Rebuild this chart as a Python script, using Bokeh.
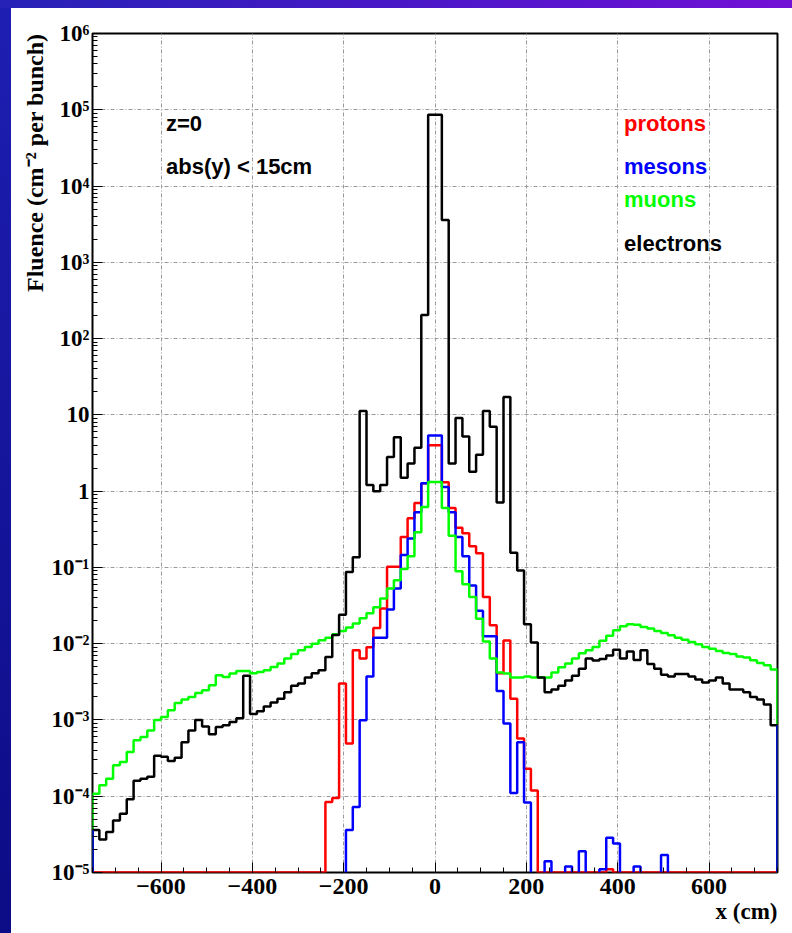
import json
import numpy as np
from bokeh.plotting import figure
from bokeh.models import FixedTicker, CustomJSTickFormatter, Label, Div, Range1d, Title
from bokeh.layouts import column, row
from bokeh.embed import file_html
from bokeh.resources import INLINE

# ---------------- data ----------------
x_min, x_max, bin_width = -750, 750, 15          # 100 bins of 15 cm

protons = [
    0, 0, 0, 0, 0, 0, 0, 0, 0, 0,
    0, 0, 0, 0, 0, 0, 0, 0, 0, 0,
    0, 0, 0, 0, 0, 0, 0, 0, 0, 0,
    0, 0, 0, 0, 8.4e-5, 9.5e-5, 3.0e-3, 4.9e-4, 8.2e-3, 6.4e-3,
    9.0e-3, 1.6e-2, 2.9e-2, 0.102, 0.102, 0.25, 0.44, 0.70, 1.27, 4.0,
    4.0, 1.31, 0.60, 0.33, 0.28, 0.19, 0.153, 0.041, 0.0174, 4.1e-3,
    0.011, 1.9e-3, 5.7e-4, 2.3e-4, 1.19e-4, 0, 0, 0, 0, 0,
    0, 0, 0, 0, 0, 1.1e-5, 0, 0, 0, 0,
    0, 0, 0, 0, 0, 0, 0, 0, 0, 0,
    0, 0, 0, 0, 0, 0, 0, 0, 0, 0,
]

mesons = [
    0, 0, 0, 0, 0, 0, 0, 0, 0, 0,
    0, 0, 0, 0, 0, 0, 0, 0, 0, 0,
    0, 0, 0, 0, 0, 0, 0, 0, 0, 0,
    0, 0, 0, 0, 0, 0, 0, 3.6e-5, 7.2e-5, 9.9e-4,
    3.7e-3, 0.012, 0.012, 0.028, 0.053, 0.145, 0.24, 0.53, 1.27, 5.35,
    5.35, 1.13, 0.53, 0.25, 0.14, 0.058, 0.027, 0.0125, 0.0125, 2.4e-3,
    9.0e-4, 1.1e-4, 5.1e-4, 8.3e-5, 0, 0, 1.4e-5, 0, 0, 1.2e-5,
    0, 1.9e-5, 0, 0, 1.1e-5, 2.85e-5, 2.4e-5, 0, 0, 1.2e-5,
    0, 0, 0, 1.7e-5, 0, 0, 0, 0, 0, 0,
    0, 0, 0, 0, 0, 0, 0, 0, 0, 0,
]

muons = [
    1.08e-4, 1.39e-4, 1.70e-4, 2.54e-4, 2.8e-4, 3.8e-4, 5.4e-4, 6.0e-4, 7.3e-4, 1.0e-3,
    1.09e-3, 1.34e-3, 1.67e-3, 1.85e-3, 2.0e-3, 2.25e-3, 2.45e-3, 2.85e-3, 3.85e-3, 3.65e-3,
    4.05e-3, 4.4e-3, 4.4e-3, 4.1e-3, 4.25e-3, 4.5e-3, 4.95e-3, 5.5e-3, 6.4e-3, 7.3e-3,
    8.2e-3, 9.05e-3, 0.010, 0.0111, 0.012, 0.0133, 0.0147, 0.0163, 0.0184, 0.0215,
    0.025, 0.030, 0.039, 0.053, 0.068, 0.095, 0.14, 0.29, 0.62, 1.32,
    1.32, 0.60, 0.26, 0.089, 0.060, 0.041, 0.0213, 0.0107, 6.4e-3, 4.2e-3,
    4.05e-3, 3.6e-3, 3.6e-3, 3.7e-3, 3.6e-3, 3.6e-3, 3.6e-3, 4.2e-3, 4.9e-3, 5.5e-3,
    6.4e-3, 7.5e-3, 8.2e-3, 9.05e-3, 0.0109, 0.0127, 0.015, 0.0169, 0.018, 0.0177,
    0.0166, 0.0158, 0.0147, 0.0138, 0.0129, 0.012, 0.0113, 0.0105, 9.8e-3, 9.05e-3,
    8.6e-3, 8.0e-3, 7.55e-3, 7.3e-3, 6.8e-3, 6.6e-3, 6.05e-3, 5.6e-3, 5.2e-3, 4.6e-3,
]

electrons = [
    3.6e-5, 2.7e-5, 3.4e-5, 4.8e-5, 5.9e-5, 9.1e-5, 1.6e-4, 1.7e-4, 1.8e-4, 3.4e-4,
    3.3e-4, 2.9e-4, 3.2e-4, 5.1e-4, 7.3e-4, 1.0e-3, 8.2e-4, 6.5e-4, 8.1e-4, 8.5e-4,
    9.4e-4, 1.05e-3, 3.8e-3, 1.2e-3, 1.3e-3, 1.5e-3, 1.7e-3, 1.9e-3, 2.3e-3, 2.8e-3,
    3.0e-3, 3.6e-3, 4.1e-3, 4.5e-3, 6.7e-3, 1.3e-2, 2.4e-2, 8.7e-2, 0.136, 11.2,
    1.2, 1.0, 1.2, 2.8, 5.1, 1.5, 2.3, 3.7, 204, 8.6e4,
    8.6e4, 3600, 2.3, 9.1, 5.2, 1.8, 3.0, 11.2, 7.0, 0.71,
    17.1, 0.156, 0.091, 0.018, 0.0104, 3.6e-3, 2.3e-3, 2.5e-3, 2.8e-3, 3.3e-3,
    3.8e-3, 4.7e-3, 6.4e-3, 6.0e-3, 6.3e-3, 7.0e-3, 8.3e-3, 6.4e-3, 7.9e-3, 6.1e-3,
    8.2e-3, 5.4e-3, 4.7e-3, 3.9e-3, 3.7e-3, 4.0e-3, 4.0e-3, 3.7e-3, 3.4e-3, 3.1e-3,
    3.3e-3, 3.6e-3, 3.0e-3, 2.5e-3, 2.5e-3, 2.3e-3, 2.0e-3, 1.85e-3, 1.6e-3, 8.5e-4,
]

x_ticks = [-600, -400, -200, 0, 200, 400, 600]
y_tick_exps = [-5, -4, -3, -2, -1, 0, 1, 2, 3, 4, 5, 6]
y_tick_labels = ["10\u207b\u2075", "10\u207b\u2074", "10\u207b\u00b3", "10\u207b\u00b2",
                 "10\u207b\u00b9", "1", "10", "10\u00b2", "10\u00b3", "10\u2074",
                 "10\u2075", "10\u2076"]
series_names = ["protons", "mesons", "muons", "electrons"]
series_colors = ["#ff0000", "#0000ff", "#00ff00", "#000000"]
x_title = "x (cm)"
y_title = "Fluence (cm\u207b\u00b2 per bunch)"

y_floor = 10.0 ** y_tick_exps[0]
y_top = 10.0 ** y_tick_exps[-1]
edges = np.arange(x_min, x_max + bin_width, bin_width)


def step_path(vals, gap_zeros):
    xs, ys = [], []
    run = False
    for i, v in enumerate(vals):
        if v <= 0:
            if gap_zeros:
                if run:
                    xs += [edges[i], np.nan]
                    ys += [y_floor, np.nan]
                    run = False
                continue
            v = y_floor
        if not run:
            xs.append(edges[i]); ys.append(y_floor)
            run = True
        xs += [edges[i], edges[i + 1]]
        ys += [v, v]
    if run:
        xs.append(edges[-1]); ys.append(y_floor)
    return np.array(xs, dtype=float), np.array(ys, dtype=float)


# ---------------- figure ----------------
p = figure(width=781, height=925,
           x_range=Range1d(x_min, x_max), y_range=Range1d(y_floor, y_top),
           y_axis_type="log", output_backend="svg", toolbar_location=None,
           min_border_left=81, min_border_right=15, min_border_top=25,
           min_border_bottom=61)
p.background_fill_color = "white"
p.border_fill_color = "white"
p.outline_line_color = "black"
p.outline_line_width = 2

xt = FixedTicker(ticks=x_ticks, minor_ticks=list(range(x_min, x_max + 1, 50)))
yt = FixedTicker(ticks=[10.0 ** e for e in y_tick_exps],
                 minor_ticks=[k * 10.0 ** e for e in y_tick_exps[:-1] for k in range(2, 10)])
p.xaxis.ticker = xt
p.yaxis.ticker = yt
p.xgrid.ticker = xt
p.ygrid.ticker = yt

p.yaxis.formatter = CustomJSTickFormatter(
    code="const labels = %s; return labels[Math.round(Math.log10(tick)) - (%d)];"
    % (json.dumps(y_tick_labels), y_tick_exps[0]))

for ax in (p.xaxis[0], p.yaxis[0]):
    ax.axis_line_color = None
    ax.major_tick_in = 10
    ax.major_tick_out = 0
    ax.minor_tick_in = 5
    ax.minor_tick_out = 0
    ax.major_tick_line_color = "black"
    ax.minor_tick_line_color = "black"
    ax.major_label_text_font = "Liberation Serif"
    ax.major_label_text_font_style = "bold"
    ax.major_label_text_color = "black"
p.xaxis.major_label_text_font_size = "24px"
p.yaxis.major_label_text_font_size = "23px"
p.xaxis.major_label_standoff = 6
p.yaxis.major_label_standoff = 3

p.grid.grid_line_color = "#9a9a9a"
p.grid.grid_line_dash = "4 2 1 2"
p.grid.grid_line_width = 1

# histograms: red with zeros on the floor, blue with zero bins left out
series = [protons, mesons, muons, electrons]
gaps = [False, True, False, False]
for vals, col, gap in zip(series, series_colors, gaps):
    xs, ys = step_path(vals, gap)
    p.line(xs, ys, line_color=col, line_width=2.5)

# blue closing edges of the frame (as in the original)
p.segment(x0=[edges[0], edges[-1]], y0=[y_floor, y_floor],
          x1=[edges[0], edges[-1]], y1=[electrons[0], electrons[-1]],
          line_color=series_colors[1], line_width=2.5)

# ---------------- texts ----------------
sans = "Liberation Sans"
serif = "Liberation Serif"
p.add_layout(Label(x=-589, y=6.7e4, text="z=0", text_font=sans, text_font_style="bold",
                   text_font_size="22px", text_color="black", text_baseline="alphabetic"))
p.add_layout(Label(x=-589, y=1.8e4, text="abs(y) < 15cm", text_font=sans,
                   text_font_style="bold", text_font_size="22px", text_color="black",
                   text_baseline="alphabetic"))
legend_y = [6.6e4, 1.8e4, 6.6e3, 1.75e3]
for name, col, yy in zip(series_names, series_colors, legend_y):
    p.add_layout(Label(x=414, y=yy, text=name, text_font=sans, text_font_style="bold",
                       text_font_size="22px", text_color=col, text_baseline="alphabetic"))

p.add_layout(Title(text=y_title, align="right", text_font=serif, text_font_style="bold",
                   text_font_size="24px", text_color="black", standoff=2), "left")
p.add_layout(Title(text=x_title, align="right", text_font=serif, text_font_style="bold",
                   text_font_size="23px", text_color="black", standoff=0), "below")

# ---------------- slide-like border strips ----------------
top_strip = Div(text="", width=792, height=8, margin=(0, 0, 0, 0),
                styles={"background": "linear-gradient(90deg, #2622b6 0%, #4818c6 50%, #7210d6 100%)"})
left_strip = Div(text="", width=11, height=925, margin=(0, 0, 0, 0),
                 styles={"background": "linear-gradient(180deg, #1e1eb2 0%, #0c0c86 100%)"})
layout = column(top_strip, row(left_strip, p, spacing=0), spacing=0)

open("out.html", "w").write(file_html(layout, INLINE))
